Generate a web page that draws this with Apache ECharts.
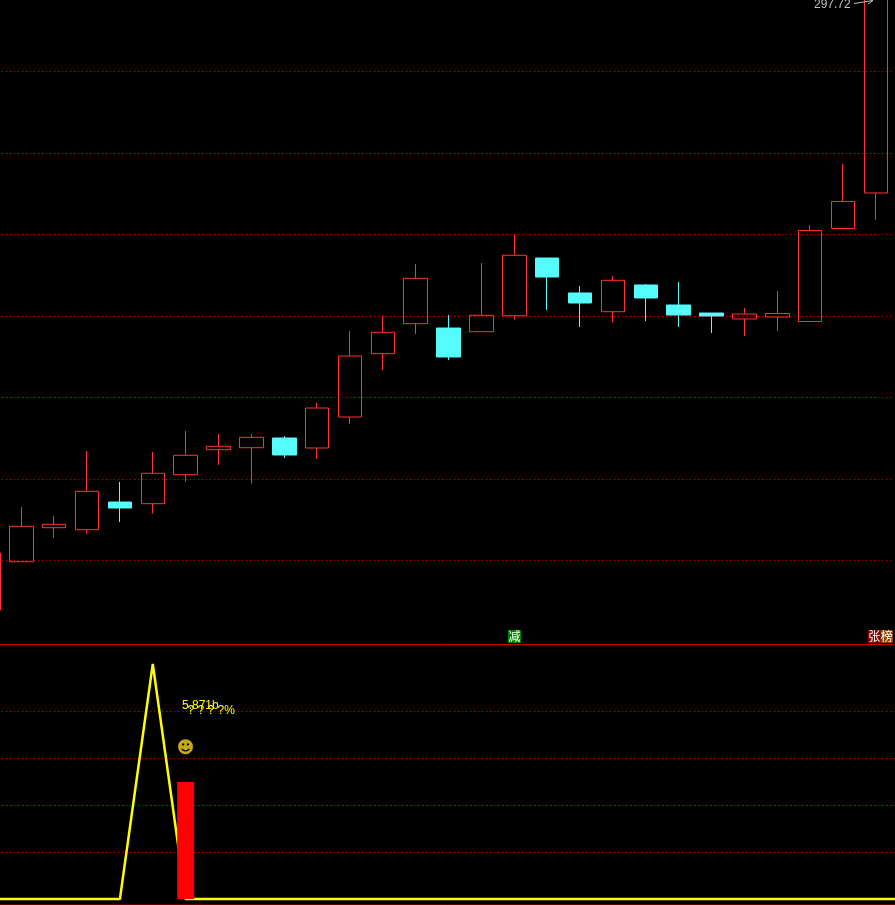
<!DOCTYPE html>
<html><head><meta charset="utf-8">
<style>html,body{margin:0;padding:0;background:#000}#c{width:895px;height:905px}</style>
<script src="https://cdn.jsdelivr.net/npm/echarts@6/dist/echarts.min.js"></script>
</head><body><div id="c"></div>
<script>
const opens  = [147.85,159.70,168.05,167.56,174.35,173.94,181.05,187.19,187.68,190.06,187.61,195.21,210.75,218.11,217.05,216.15,220.07,234.23,225.65,221.05,227.61,222.70,220.73,219.27,219.75,218.65,241.47,250.19];
const closes = [161.84,168.39,168.88,176.98,172.88,181.40,185.82,188.03,190.23,185.89,197.42,210.18,216.00,229.25,209.94,220.17,234.90,229.57,223.19,228.76,224.42,220.24,220.00,220.49,220.61,240.98,248.10,297.70];
const lows   = [147.85,159.70,165.59,166.58,169.45,171.49,179.34,183.44,178.85,185.15,184.91,193.50,206.75,215.58,209.20,216.15,219.09,221.47,217.30,218.35,218.77,217.30,215.83,215.09,216.32,218.53,241.35,243.56];
const highs  = [161.84,173.13,170.92,186.87,179.26,186.63,191.78,191.05,191.05,190.55,198.65,216.32,220.07,232.76,220.24,233.00,239.95,234.23,227.36,229.82,227.85,228.34,220.73,221.96,226.13,242.33,257.30,297.72];
const lineValues = [0,0,0,0,0,5,0,0,0,0,0,0,0,0,0,0,0,0,0,0,0,0,0,0,0,0,0,0,0];
const barValues  = [null,null,null,null,null,null,2.49,null,null,null,null,null,null,null,null,null,null,null,null,null,null,null,null,null,null,null,null,null,null];
const smileValues = [null,null,null,null,null,null,3.19,null,null,null,null,null,null,null,null,null,null,null,null,null,null,null,null,null,null,null,null,null,null];
const categories = lineValues.map((_, i) => String(i + 1));
const topLabel = '297.72';
const noteLine1 = '5.871b';
const noteLine2 = '? ? ? ?%';

const candleData = opens.map((o, i) => [o, closes[i], lows[i], highs[i]]);
const band = 32.87, left = -28;
const dotted = { show: true, lineStyle: { color: '#B00000', width: 1, type: [1, 3], dashOffset: 2 } };
const chart = echarts.init(document.getElementById('c'), null, { renderer: 'canvas' });
const font = '"Liberation Sans", Arial, sans-serif';
const cjk = '"Noto Sans CJK SC", sans-serif';
function tag(x, w, bg, ch) {
  return [
    { type: 'rect', z: 100, shape: { x: x, y: 630, width: w, height: 13 }, style: { fill: bg }, silent: true },
    { type: 'text', z: 101, x: x + w / 2, y: 636.5, style: { text: ch, fill: '#fff', font: '12px ' + cjk, textAlign: 'center', textVerticalAlign: 'middle' }, silent: true }
  ];
}
chart.setOption({
  animation: false,
  backgroundColor: '#000',
  grid: [
    { left: left, top: -10, width: band * 28, height: 652, outerBoundsMode: 'none' },
    { left: left, top: 664, width: band * 29, height: 235, outerBoundsMode: 'none' }
  ],
  xAxis: [
    { type: 'category', gridIndex: 0, data: categories.slice(0, 28), position: 'bottom', offset: 2,
      axisLine: { show: true, onZero: false, lineStyle: { color: '#C80000', width: 1 } }, axisTick: { show: false }, axisLabel: { show: false }, splitLine: { show: false } },
    { type: 'category', gridIndex: 1, data: categories, position: 'bottom', offset: 5,
      axisLine: { show: true, onZero: false, lineStyle: { color: '#600000', width: 1 } }, axisTick: { show: false }, axisLabel: { show: false }, splitLine: { show: false } }
  ],
  yAxis: [
    { type: 'value', gridIndex: 0, min: 140, max: 300, interval: 20, axisLine: { show: false }, axisTick: { show: false }, axisLabel: { show: false },
      splitLine: Object.assign({ showMinLine: false, showMaxLine: false }, dotted) },
    { type: 'value', gridIndex: 1, min: 0, max: 5, interval: 1, axisLine: { show: false }, axisTick: { show: false }, axisLabel: { show: false },
      splitLine: Object.assign({ showMinLine: false, showMaxLine: false }, dotted) }
  ],
  series: [
    { type: 'candlestick', xAxisIndex: 0, yAxisIndex: 0, data: candleData, barWidth: 24, clip: false,
      itemStyle: { color: 'rgba(0,0,0,0)', color0: '#54FCFC', borderColor: '#FF3232', borderColor0: '#54FCFC', borderWidth: 1 } },
    { type: 'line', xAxisIndex: 1, yAxisIndex: 1, data: lineValues, symbol: 'none', z: 3, clip: false, lineStyle: { color: '#FFFF00', width: 2.5 } },
    { type: 'bar', xAxisIndex: 1, yAxisIndex: 1, data: barValues, barWidth: 17, z: 4, clip: false, itemStyle: { color: '#FF0000' } },
    { type: 'scatter', xAxisIndex: 1, yAxisIndex: 1, data: smileValues, symbol: 'circle', symbolSize: 1, z: 5,
      itemStyle: { color: '#F5D320' },
      label: { show: true, position: 'inside', formatter: '\u263B', color: '#F5D320', fontSize: 17, fontFamily: '"DejaVu Sans"' } }
  ],
  graphic: [
    { type: 'text', z: 100, x: 814, y: 5, style: { text: topLabel, fill: '#C0C0C0', font: '12px ' + font, textVerticalAlign: 'middle' }, silent: true },
    { type: 'polyline', z: 100, shape: { points: [[854, 3.5], [873, 0.5]] }, style: { stroke: '#C0C0C0', lineWidth: 1, fill: null }, silent: true },
    { type: 'polyline', z: 100, shape: { points: [[868, 4], [873, 0.5], [868, -1]] }, style: { stroke: '#C0C0C0', lineWidth: 1, fill: null }, silent: true },
    { type: 'text', z: 100, x: 182, y: 706, style: { text: noteLine1, fill: '#FFFF00', font: '12px ' + font, textVerticalAlign: 'middle' }, silent: true },
    { type: 'text', z: 100, x: 187.5, y: 710.5, style: { text: noteLine2, fill: '#FFFF00', font: '12px ' + font, textVerticalAlign: 'middle' }, silent: true }
  ].concat(tag(508, 13, '#008000', '减'), tag(868, 12.5, '#8B0000', '张'), tag(880.5, 12.5, '#8B4500', '榜'))
});
</script></body></html>
